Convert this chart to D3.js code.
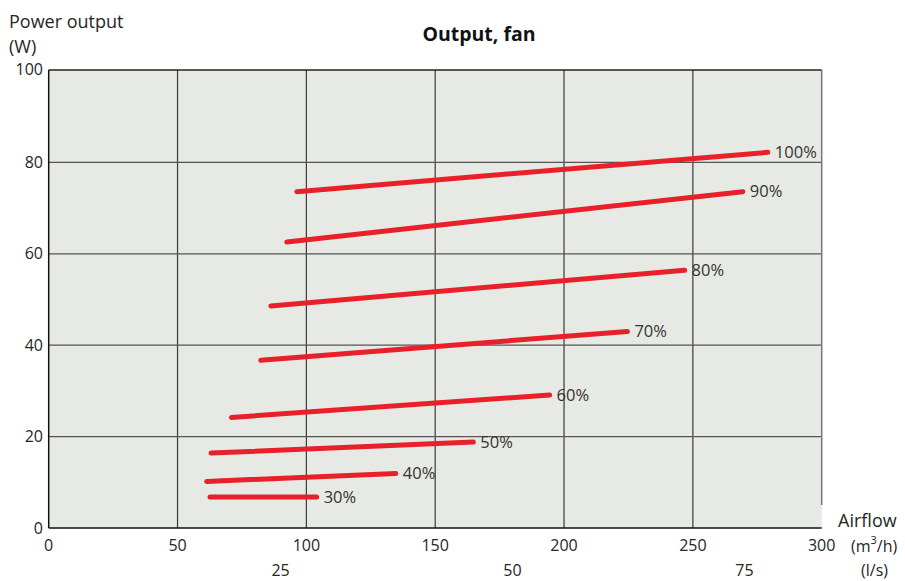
<!DOCTYPE html>
<html>
<head>
<meta charset="utf-8">
<script src="https://cdn.jsdelivr.net/npm/d3@7"></script>
<style>
  body { margin: 0; background: #fff; }
  svg { display: block; font-family: "Open Sans", "Noto Sans", sans-serif; }
</style>
</head>
<body>
<svg id="chart" width="905" height="581"></svg>
<script>
const speedLabels = ["100%", "90%", "80%", "70%", "60%", "50%", "40%", "30%"];
const startFlow  = [96.3, 92.4, 86.2, 82.3, 70.9, 63.0, 61.3, 62.6];
const startPower = [73.6, 62.6, 48.6, 36.7, 24.2, 16.4, 10.2, 6.8];
const endFlow    = [279.1, 269.4, 246.8, 224.6, 194.4, 164.8, 134.7, 104.0];
const endPower   = [82.2, 73.6, 56.4, 43.0, 29.1, 18.8, 11.9, 6.8];
const xTicks = [0, 50, 100, 150, 200, 250, 300];
const yTicks = [0, 20, 40, 60, 80, 100];
const lsTicks = [25, 50, 75];

(function () {
const svg = d3.select("#chart");
const pL = 48.7, pR = 821.7, pT = 71, pB = 528;
const x = d3.scaleLinear().domain([0, 300]).range([pL, pR]);
const y = d3.scaleLinear().domain([0, 100]).range([pB, pT]);
const txt = "#262626";

// background
svg.append("rect").attr("x", pL).attr("y", pT - 1)
  .attr("width", pR - pL).attr("height", pB - pT + 1)
  .attr("fill", "#e7e9e5");

// grid
svg.append("g").selectAll("line").data(xTicks.filter(d => d > 0 && d < 300)).join("line")
  .attr("x1", d => x(d)).attr("x2", d => x(d)).attr("y1", pT - 1).attr("y2", pB)
  .attr("stroke", "#3a3a3a").attr("stroke-width", 1.2);
svg.append("g").selectAll("line").data(yTicks.filter(d => d > 0 && d < 100)).join("line")
  .attr("x1", pL).attr("x2", pR).attr("y1", d => y(d)).attr("y2", d => y(d))
  .attr("stroke", "#555").attr("stroke-width", 1.2);

// borders
svg.append("line").attr("x1", pL).attr("x2", pR).attr("y1", pT - 1).attr("y2", pT - 1)
  .attr("stroke", "#222").attr("stroke-width", 1.3);
svg.append("line").attr("x1", pR).attr("x2", pR).attr("y1", pT - 1).attr("y2", 505)
  .attr("stroke", "#777").attr("stroke-width", 1.5);
svg.append("line").attr("x1", pL).attr("x2", pL).attr("y1", pT - 1).attr("y2", pB)
  .attr("stroke", "#111").attr("stroke-width", 1.5);
svg.append("line").attr("x1", pL).attr("x2", pR).attr("y1", pB).attr("y2", pB)
  .attr("stroke", "#111").attr("stroke-width", 1.5);

// y tick labels
svg.append("g").selectAll("text").data(yTicks).join("text")
  .attr("x", 43).attr("y", d => y(d) - (d === 100 ? 2 : 0)).attr("dy", "0.35em")
  .attr("text-anchor", "end").attr("font-size", 16).attr("fill", txt)
  .text(d => d);

// x tick labels m3/h
svg.append("g").selectAll("text").data(xTicks).join("text")
  .attr("x", d => x(d)).attr("y", 551)
  .attr("text-anchor", "middle").attr("font-size", 16).attr("fill", txt)
  .text(d => d);

// l/s labels
svg.append("g").selectAll("text").data(lsTicks).join("text")
  .attr("x", d => x(d * 3.6)).attr("y", 576)
  .attr("text-anchor", "middle").attr("font-size", 16).attr("fill", txt)
  .text(d => d);

// axis titles
svg.append("text").attr("x", 9).attr("y", 28).attr("font-size", 18).attr("fill", txt).text("Power output");
svg.append("text").attr("x", 9).attr("y", 53).attr("font-size", 18).attr("fill", txt).text("(W)");
svg.append("text").attr("x", 479).attr("y", 41).attr("text-anchor", "middle")
  .attr("font-size", 19.5).attr("font-weight", "bold").attr("fill", "#111").text("Output, fan");
svg.append("text").attr("x", 838).attr("y", 527).attr("font-size", 18).attr("fill", txt).text("Airflow");
const unit = svg.append("text").attr("x", 851).attr("y", 552).attr("font-size", 16).attr("fill", txt);
unit.append("tspan").text("(m");
unit.append("tspan").attr("font-size", 11).attr("dy", -8).text("3");
unit.append("tspan").attr("dy", 8).text("/h)");
svg.append("text").attr("x", 861).attr("y", 576).attr("font-size", 16).attr("fill", txt).text("(l/s)");

// red lines
const series = speedLabels.map((s, i) => ({
  label: s,
  pts: [[startFlow[i], startPower[i]], [endFlow[i], endPower[i]]]
}));
const line = d3.line().x(d => x(d[0])).y(d => y(d[1]));
svg.append("g").selectAll("path").data(series).join("path")
  .attr("d", d => line(d.pts))
  .attr("fill", "none").attr("stroke", "#e8202a").attr("stroke-width", 5)
  .attr("stroke-linecap", "round");

svg.append("g").selectAll("text").data(series).join("text")
  .attr("x", d => x(d.pts[1][0]) + 7).attr("y", d => y(d.pts[1][1]))
  .attr("dy", "0.35em").attr("font-size", 16.5).attr("fill", "#333")
  .text(d => d.label);
})();
</script>
</body>
</html>
